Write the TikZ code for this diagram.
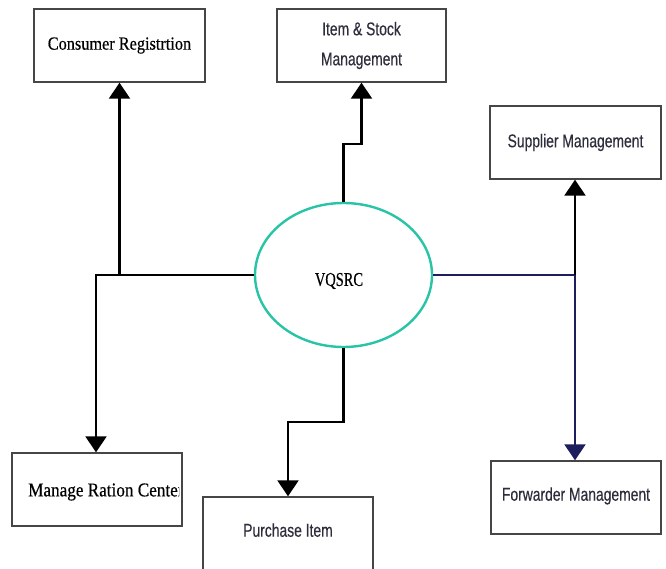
\documentclass[tikz,border=0pt]{standalone}
\usepackage{fontspec}
\setmainfont{Liberation Serif}
\newfontfamily\nsans[FakeStretch=0.75,FakeBold=0.3]{Liberation Sans}
\newfontfamily\nserif[FakeStretch=0.88,FakeBold=0.4]{Liberation Serif}
\newfontfamily\vserif[FakeStretch=0.74,FakeBold=0.4]{Liberation Serif}
\usetikzlibrary{arrows.meta,shapes.geometric}
\definecolor{teal1}{RGB}{40,196,166}
\definecolor{navy1}{RGB}{28,30,94}
\definecolor{boxline}{RGB}{70,70,70}
\definecolor{sanstext}{RGB}{45,45,60}
\begin{document}
\begin{tikzpicture}[x=1pt,y=-1pt,
  procbox/.style={draw=boxline,line width=1.4pt,rectangle,minimum height=73pt,inner sep=0pt,fill=white},
  sanslabel/.style={text=sanstext,font=\nsans\fontsize{18.5}{30}\selectfont,align=center},
  seriflabel/.style={text=black,font=\nserif\fontsize{18.5}{20}\selectfont},
  conn/.style={line width=2.2pt,black},
  tip/.style={-{Triangle[length=16pt,width=21pt]}}]
\useasboundingbox[fill=white] (0,0) rectangle (666,569);

% central process
\node[ellipse,draw=teal1,line width=2.4pt,minimum width=177pt,minimum height=144pt,inner sep=0pt] (v) at (343.5,275) {};
\node[font=\vserif\fontsize{19.5}{20}\selectfont] (vt) at (339,281) {VQSRC};

% boxes
\node[procbox,minimum width=171pt,seriflabel] (cons) at (119.5,45.5) {Consumer Registrtion};
\node[procbox,minimum width=169pt,sanslabel] (item) at (361.5,45.5) {Item \& Stock\\Management};
\node[procbox,minimum width=171pt,sanslabel] (supp) at (575.5,142.5) {Supplier Management};
\node[procbox,minimum width=170pt] (mrc) at (97,489.5) {};
\node[procbox,minimum width=170pt,sanslabel,text depth=7pt] (purch) at (288,533.5) {Purchase Item};
\node[procbox,minimum width=170pt,sanslabel,text depth=7pt] (fwd) at (576,497.5) {Forwarder Management};

\begin{scope}
  \clip (12,453) rectangle (179,526);
  \node[seriflabel,anchor=west,inner sep=0pt,font=\nserif\fontsize{19.5}{20}\selectfont] (mrct) at (28,492) {Manage Ration Center};
\end{scope}

% junction coordinates
\coordinate (jl) at (96,275);
\coordinate (jc) at (119.5,275);
\coordinate (ju1) at (343.5,144);
\coordinate (ju2) at (361.5,144);
\coordinate (jd1) at (343.5,422);
\coordinate (jd2) at (288,422);
\coordinate (jr) at (575,275);

% connectors
\draw[conn,tip] (v.west) -- (jl) -- (mrc.north -| jl);
\draw[conn,tip] (jc) -- (cons.south);
\draw[conn,tip] (v.north) -- (ju1) -- (ju2) -- (item.south);
\draw[conn,tip] (v.south) -- (jd1) -- (jd2) -- (purch.north);
\draw[conn,navy1] (v.east) -- (jr);
\draw[conn,tip] (jr) -- (supp.south -| jr);
\draw[conn,navy1,tip] (jr) -- (fwd.north -| jr);
\end{tikzpicture}
\end{document}
